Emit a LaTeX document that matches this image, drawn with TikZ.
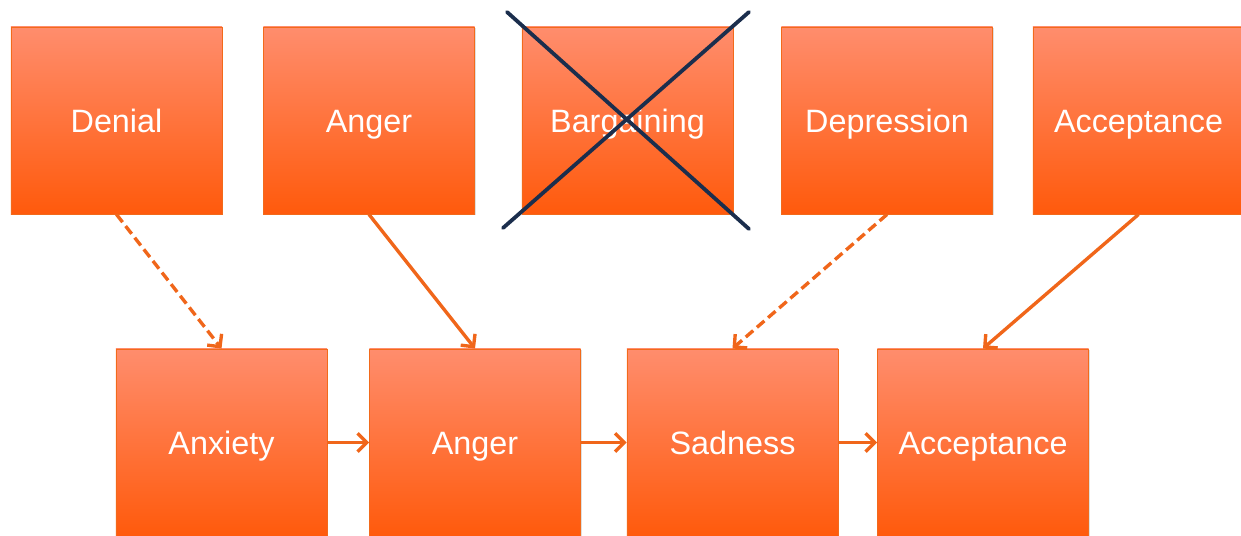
\documentclass[tikz,border=0pt]{standalone}
\usepackage{fontspec}
\setmainfont{Liberation Sans}
\usetikzlibrary{arrows.meta,shadows}
\definecolor{boxtop}{HTML}{FF8D6D}
\definecolor{boxbot}{HTML}{FF5A0C}
\definecolor{boxline}{HTML}{F26A1B}
\definecolor{arrcol}{HTML}{F0661A}
\definecolor{crosscol}{HTML}{1B2E4D}
\begin{document}
\begin{tikzpicture}[x=0.025cm,y=-0.025cm,
  stage/.style={rectangle,draw=boxline,line width=0.6pt,top color=boxtop,bottom color=boxbot,
    minimum width=5.275cm,minimum height=4.675cm,inner sep=0pt,text=white,
    text height=16.5pt,text depth=0pt,
    font=\fontsize{23}{26}\selectfont,
    drop shadow={opacity=0.25,shadow xshift=0.8pt,shadow yshift=-0.8pt}},
  arr/.style={-{Straight Barb[length=6.5pt,width=13pt]},arrcol,line width=2.4pt},
  dasharr/.style={arr,dash pattern=on 7pt off 3.5pt}]
\useasboundingbox (0,0) rectangle (1241,536);
\begin{scope}
\clip (0,0) rectangle (1241,536);

\node[stage] (T1) at (116.5,120.5) {Denial};
\node[stage] (T2) at (369,120.5) {Anger};
\node[stage] (T3) at (627.5,120.5) {Bargaining};
\node[stage] (T4) at (887,120.5) {Depression};
\node[stage] (T5) at (1138.5,120.5) {Acceptance};

\node[stage] (B1) at (221.5,442.5) {Anxiety};
\node[stage] (B2) at (475,442.5) {Anger};
\node[stage] (B3) at (732.5,442.5) {Sadness};
\node[stage] (B4) at (983,442.5) {Acceptance};

\path[dasharr] (T1.south) edge [] node[]{} (B1.north);
\path[arr] (T2.south) edge [] node[]{} (B2.north);
\path[dasharr] (T4.south) edge [] node[]{} (B3.north);
\path[arr] (T5.south) edge [] node[]{} (B4.north);

\path[arr] (B1.east) edge [] node[]{} (B2.west);
\path[arr] (B2.east) edge [] node[]{} (B3.west);
\path[arr] (B3.east) edge [] node[]{} (B4.west);

% cross over bargaining
\coordinate (X1) at (507,12);
\coordinate (X2) at (749,229);
\coordinate (X3) at (749,12);
\coordinate (X4) at (503,228);
\draw[crosscol,line width=2.7pt,line cap=round] (X1) -- (X2);
\draw[crosscol,line width=2.7pt,line cap=round] (X3) -- (X4);
\end{scope}
\end{tikzpicture}
\end{document}
